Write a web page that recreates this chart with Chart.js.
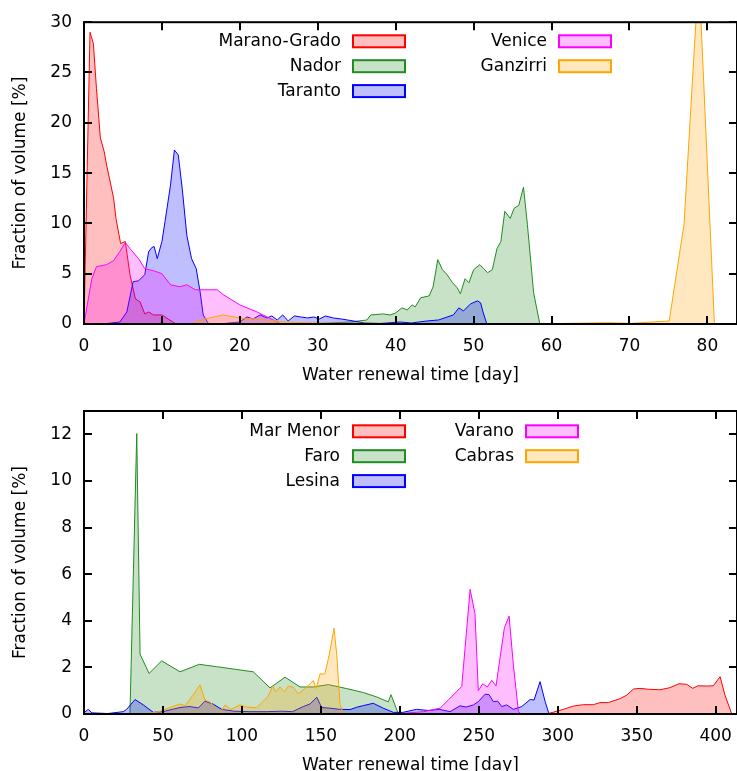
<!DOCTYPE html>
<html>
<head>
<meta charset="utf-8">
<title>Water renewal time</title>
<script src="https://cdn.jsdelivr.net/npm/chart.js@4.4.1/dist/chart.umd.min.js"></script>
<style>
  html, body { margin: 0; padding: 0; background: #fff; overflow: hidden; }
  canvas { display: block; }
</style>
</head>
<body>
<canvas id="topChart" width="737" height="385"></canvas>
<canvas id="bottomChart" width="737" height="390"></canvas>
<script>
// ---- top panel: x = water renewal time [day], y = fraction of volume [%]
const maranoX = [0, 0.77, 1.2, 1.6, 2.1, 2.6, 2.9, 3.4, 3.8, 4.1, 4.7, 5.3, 5.9, 6.6, 7.2, 7.8, 8.3, 8.9, 10.0, 10.8, 11.7, 13];
const maranoY = [0, 29.0, 27.9, 23.4, 18.5, 17.1, 15.8, 14.0, 12.5, 10.5, 8.0, 8.2, 4.9, 2.5, 2.2, 1.0, 1.2, 0.9, 0.9, 0.5, 0.05, 0];

const nadorX = [0, 30, 34.2, 36.3, 36.8, 38.4, 39.3, 40.0, 40.8, 41.5, 42.1, 42.5, 43.2, 44.3, 44.8, 45.4, 46.0, 46.6, 47.3, 47.9, 48.3, 48.9, 49.4, 50.0, 50.8, 51.3, 51.8, 52.4, 53.0, 53.5, 54.0, 54.7, 55.2, 55.8, 56.4, 56.9, 57.7, 58.5];
const nadorY = [0, 0.05, 0.2, 0.4, 0.9, 1.0, 0.9, 1.1, 1.6, 1.4, 1.9, 1.7, 2.6, 2.8, 3.7, 6.4, 5.4, 4.9, 4.1, 3.6, 3.0, 4.5, 4.1, 5.4, 5.9, 5.5, 5.1, 5.4, 7.5, 8.2, 11.2, 10.5, 11.5, 11.8, 13.6, 9.9, 3.1, 0];

const tarantoX = [0, 3, 4.6, 5.5, 6.3, 7.0, 7.8, 8.3, 8.7, 9.0, 9.4, 10.0, 10.4, 11.1, 11.6, 12.1, 12.6, 13.2, 13.8, 14.4, 14.9, 15.3, 16.0, 18, 20, 20.9, 21.7, 22.6, 23.5, 24.1, 24.8, 25.5, 26.2, 27, 27.8, 28.7, 29.5, 30.2, 31.0, 32, 33, 34.6, 36, 38, 40.6, 42, 44, 45.5, 47.4, 48.1, 48.7, 49.6, 50.5, 50.9, 51.2, 51.7];
const tarantoY = [0, 0.05, 0.2, 1.2, 4.2, 4.3, 4.9, 7.2, 7.6, 7.7, 6.5, 8.2, 10.2, 13.8, 17.3, 16.8, 13.5, 8.8, 6.5, 5.5, 3.2, 0.9, 0, 0.05, 0.2, 0.7, 0.5, 0.9, 0.6, 0.8, 0.4, 0.9, 0.3, 0.8, 0.7, 0.6, 0.7, 0.5, 0.8, 0.6, 0.5, 0.3, 0.1, 0.05, 0.2, 0.1, 0.3, 0.4, 0.9, 1.6, 1.3, 2.0, 2.3, 2.1, 1.2, 0];

const veniceX = [0, 1.0, 1.6, 2.9, 3.8, 4.6, 5.3, 5.9, 7.0, 7.8, 8.9, 10.0, 11.1, 12.3, 13.2, 14.3, 17.1, 17.9, 20.0, 22.2, 23.5, 25.2, 27];
const veniceY = [0, 4.5, 5.7, 5.9, 6.3, 7.2, 8.1, 7.5, 6.5, 5.5, 5.3, 5.0, 3.9, 3.7, 3.9, 3.4, 3.4, 2.9, 1.9, 1.2, 0.7, 0.03, 0];

const ganzirriX = [0, 13.6, 15.5, 17.9, 20, 22, 23.5, 26, 30, 40, 50, 58.6, 67.2, 70.2, 75.1, 77.0, 78.9, 80.9, 84];
const ganzirriY = [0, 0, 0.5, 0.9, 0.6, 0.5, 0.4, 0.2, 0.1, 0.05, 0.05, 0.02, 0.13, 0.07, 0.3, 9.9, 35, 0, 0];

// ---- bottom panel
const marMenorX = [0, 293, 303.6, 309.9, 316.2, 322.5, 326.8, 332, 339.5, 343.7, 347.9, 352.1, 357.4, 364.8, 371.1, 376.8, 381.7, 385.5, 388.7, 394.3, 398.5, 402.8, 405.9, 410.2];
const marMenorY = [0, 0, 0.2, 0.34, 0.4, 0.4, 0.49, 0.49, 0.66, 0.81, 1.07, 1.1, 1.06, 1.04, 1.13, 1.3, 1.27, 1.1, 1.21, 1.2, 1.21, 1.6, 0.81, 0];

const faroX = [0, 29.1, 33.4, 35.5, 41.2, 49.2, 60.8, 73.0, 84.0, 107.2, 117.8, 127.3, 136.8, 145.2, 154.7, 166.4, 176.9, 185.4, 192.7, 194.4, 199.1];
const faroY = [0, 0, 12.03, 2.57, 1.74, 2.28, 1.81, 2.13, 2.03, 1.81, 1.12, 1.58, 1.16, 1.16, 1.26, 1.09, 0.92, 0.73, 0.52, 0.83, 0];

const lesinaX = [0, 2.7, 5, 15, 24.9, 27, 32.3, 37.6, 43.9, 50, 60.8, 67.1, 72.4, 76.6, 81.9, 87.2, 95, 105, 115.7, 125, 132, 138.9, 143.1, 147.4, 150.5, 155.8, 162, 168.5, 172.7, 176.9, 183.2, 189.5, 195.9, 202, 210.6, 218, 225, 231.8, 238.1, 242, 246.6, 249.7, 254, 256.5, 259.2, 262, 264.5, 267.7, 271.9, 277.2, 282.5, 285, 288.8, 292, 294.5];
const lesinaY = [0.05, 0.2, 0.05, 0.02, 0.1, 0.2, 0.62, 0.39, 0.07, 0.1, 0.28, 0.32, 0.26, 0.55, 0.42, 0.2, 0.12, 0.1, 0.1, 0.12, 0.1, 0.32, 0.43, 0.72, 0.28, 0.25, 0.2, 0.19, 0.29, 0.36, 0.46, 0.25, 0.07, 0.07, 0.2, 0.15, 0.2, 0.1, 0.35, 0.3, 0.39, 0.53, 0.85, 0.83, 0.53, 0.55, 0.32, 0.39, 0.2, 0.32, 0.62, 0.6, 1.39, 0.53, 0];

const varanoX = [0, 150, 200, 215, 225.5, 230.7, 239.2, 244.5, 247.6, 249.7, 252.5, 255.4, 258.2, 260.9, 266.2, 269.2, 271.9, 275.1, 277];
const varanoY = [0, 0, 0.02, 0.1, 0.25, 0.6, 1.18, 5.35, 4.3, 1.0, 1.3, 1.16, 1.45, 1.2, 3.7, 4.2, 2.1, 0.1, 0];

const cabrasX = [0, 35.5, 46, 54.5, 60.8, 64, 69.2, 73.4, 76.6, 80, 86.1, 89.3, 93, 98.8, 103, 109.4, 116.7, 119.5, 121.5, 124.1, 127, 129.5, 132.6, 135.7, 141, 145.2, 147, 149.5, 152.5, 155.4, 158.3, 160, 162.1, 164.2];
const cabrasY = [0, 0, 0.07, 0.28, 0.43, 0.35, 0.82, 1.25, 0.6, 0.5, 0.03, 0.39, 0.2, 0.39, 0.3, 0.27, 0.77, 1.2, 0.95, 1.16, 0.95, 1.2, 1.14, 0.87, 1.16, 1.43, 1.1, 1.72, 1.72, 2.58, 3.68, 2.58, 0.42, 0];

const topLabels = ['Marano-Grado', 'Nador', 'Taranto', 'Venice', 'Ganzirri'];
const bottomLabels = ['Mar Menor', 'Faro', 'Lesina', 'Varano', 'Cabras'];

const palette = [[255, 0, 0], [34, 139, 34], [0, 0, 255], [255, 0, 255], [255, 165, 0]];

Chart.defaults.font.family = '"DejaVu Sans", sans-serif';
Chart.defaults.font.size = 17;
Chart.defaults.color = '#000';

function makeSet(label, xs, ys, i, count) {
    const c = palette[i];
    return {
        label: label,
        data: xs.map((x, k) => ({x: x, y: ys[k]})),
        borderColor: `rgb(${c[0]},${c[1]},${c[2]})`,
        backgroundColor: `rgba(${c[0]},${c[1]},${c[2]},0.25)`,
        borderWidth: 1,
        fill: 'origin',
        pointRadius: 0,
        tension: 0,
        order: count - i   // later series on top, like gnuplot
    };
}

// frame with inward ticks on all sides
const framePlugin = {
    id: 'frame',
    afterDraw(chart) {
        const {ctx, chartArea: a, scales} = chart;
        const xs = scales.x, ys = scales.y;
        ctx.save();
        ctx.strokeStyle = '#000';
        ctx.lineWidth = 2;
        ctx.beginPath();
        xs.ticks.forEach(t => {
            const px = Math.round(xs.getPixelForValue(t.value));
            ctx.moveTo(px, a.bottom); ctx.lineTo(px, a.bottom - 8);
            ctx.moveTo(px, a.top); ctx.lineTo(px, a.top + 8);
        });
        ys.ticks.forEach(t => {
            const py = Math.round(ys.getPixelForValue(t.value));
            ctx.moveTo(a.left, py); ctx.lineTo(a.left + 8, py);
            ctx.moveTo(a.right, py); ctx.lineTo(a.right - 8, py);
        });
        ctx.stroke();
        ctx.strokeRect(a.left, a.top, a.right - a.left, a.bottom - a.top);
        ctx.restore();
    }
};

// gnuplot style key: text right aligned, then a filled box
const keyPlugin = {
    id: 'key',
    afterDatasetsDraw(chart, args, opts) {
        const {ctx} = chart;
        ctx.save();
        ctx.font = '17px "DejaVu Sans", sans-serif';
        ctx.textAlign = 'right';
        ctx.textBaseline = 'middle';
        chart.data.datasets.forEach((ds, i) => {
            const col = opts.cols[Math.floor(i / 3)];
            const y = opts.top + (i % 3) * opts.step;
            ctx.fillStyle = '#000';
            ctx.fillText(ds.label, col.text, y);
            ctx.fillStyle = ds.backgroundColor;
            ctx.fillRect(col.box, y - 6, 52, 12);
            ctx.strokeStyle = ds.borderColor;
            ctx.lineWidth = 2;
            ctx.strokeRect(col.box, y - 6, 52, 12);
        });
        ctx.restore();
    }
};

function makeChart(id, labels, xsList, ysList, xMax, xStep, yMax, yStep, padTop, key) {
    const datasets = labels.map((l, i) => makeSet(l, xsList[i], ysList[i], i, labels.length));
    return new Chart(document.getElementById(id), {
        type: 'line',
        data: {datasets: datasets},
        options: {
            responsive: false,
            animation: false,
            layout: {padding: {top: padTop, right: 0, left: 0, bottom: 0}},
            plugins: {
                legend: {display: false},
                tooltip: {enabled: false},
                key: key
            },
            scales: {
                x: {
                    type: 'linear',
                    min: 0,
                    max: xMax,
                    grid: {display: false, drawTicks: false},
                    border: {display: false},
                    ticks: {stepSize: xStep, autoSkip: false, maxRotation: 0, padding: 12, includeBounds: false},
                    afterBuildTicks: s => { s.ticks = s.ticks.filter(t => t.value % xStep === 0); },
                    afterFit: s => { s.height = 61; s.paddingLeft = 0; s.paddingRight = 0; },
                    title: {display: true, text: 'Water renewal time [day]', padding: {top: 0, bottom: -1}}
                },
                y: {
                    min: 0,
                    max: yMax,
                    grid: {display: false, drawTicks: false},
                    border: {display: false},
                    ticks: {stepSize: yStep, padding: 12, includeBounds: false},
                    afterBuildTicks: s => { s.ticks = s.ticks.filter(t => t.value % yStep === 0); },
                    afterFit: s => { s.width = 84; },
                    title: {display: true, text: 'Fraction of volume [%]', padding: {top: 10, bottom: 0}}
                }
            }
        },
        plugins: [framePlugin, keyPlugin]
    });
}

makeChart('topChart', topLabels,
    [maranoX, nadorX, tarantoX, veniceX, ganzirriX],
    [maranoY, nadorY, tarantoY, veniceY, ganzirriY],
    83.8, 10, 30, 5, 21,
    {top: 41.3, step: 24.9, cols: [{text: 341, box: 353}, {text: 547, box: 559}]});

makeChart('bottomChart', bottomLabels,
    [marMenorX, faroX, lesinaX, varanoX, cabrasX],
    [marMenorY, faroY, lesinaY, varanoY, cabrasY],
    413.5, 50, 13, 2, 26,
    {top: 46.3, step: 24.9, cols: [{text: 340, box: 353}, {text: 514, box: 526}]});
</script>
</body>
</html>
